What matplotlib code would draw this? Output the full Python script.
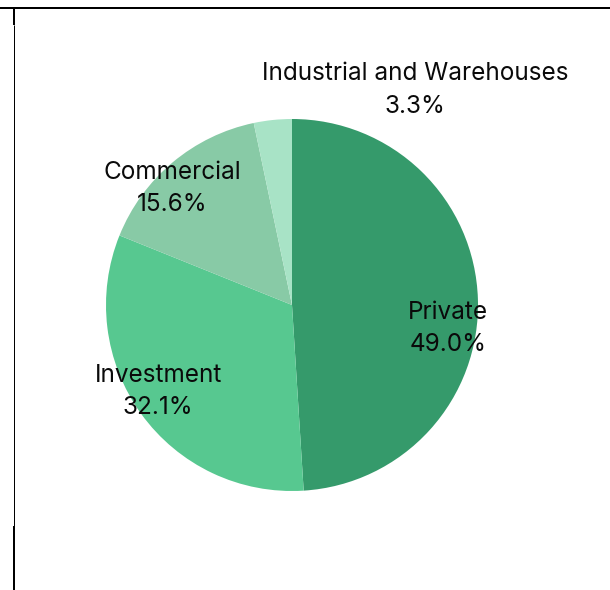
import matplotlib.pyplot as plt
from matplotlib.lines import Line2D
import numpy as np

categories = ['Private', 'Investment', 'Commercial', 'Industrial and Warehouses']
shares = [49.0, 32.1, 15.6, 3.3]
colors = ['#359A6B', '#57C890', '#88CAA6', '#A8E3C6']
# label anchor points in pie units (radius = 1)
label_xy = [(0.84, -0.125), (-0.72, -0.465), (-0.645, 0.625), (0.66, 1.155)]

W, H = 610, 590
fig = plt.figure(figsize=(W / 100, H / 100), dpi=100)

cx, cy, R = 292, 305, 186
ax = fig.add_axes([(cx - R) / W, (H - cy - R) / H, 2 * R / W, 2 * R / H])
wedges, _ = ax.pie(shares, colors=colors, startangle=90, counterclock=False,
                   radius=1, wedgeprops=dict(linewidth=0))
ax.set_xlim(-1, 1)
ax.set_ylim(-1, 1)
ax.set_aspect('auto')
ax.axis('off')

for name, val, (lx, ly) in zip(categories, shares, label_xy):
    ax.text(lx, ly, f'{name}\n{val:.1f}%', ha='center', va='center',
            fontsize=17.5, family=['Inter', 'DejaVu Sans'], color='#0A0A0A',
            linespacing=1.52, clip_on=False)

# table cell borders around the chart
def px_line(x0, y0, x1, y1, w):
    fig.add_artist(Line2D([x0 / W, x1 / W], [1 - y0 / H, 1 - y1 / H],
                          transform=fig.transFigure, color='black',
                          linewidth=w * 0.72, solid_capstyle='butt'))

px_line(0, 8, W, 8, 2)
px_line(14, 8, 14, 25, 2)
px_line(13.5, 25, 13.5, 526, 1)
px_line(14, 526, 14, H, 2)

fig.savefig('out.png', dpi=100)
